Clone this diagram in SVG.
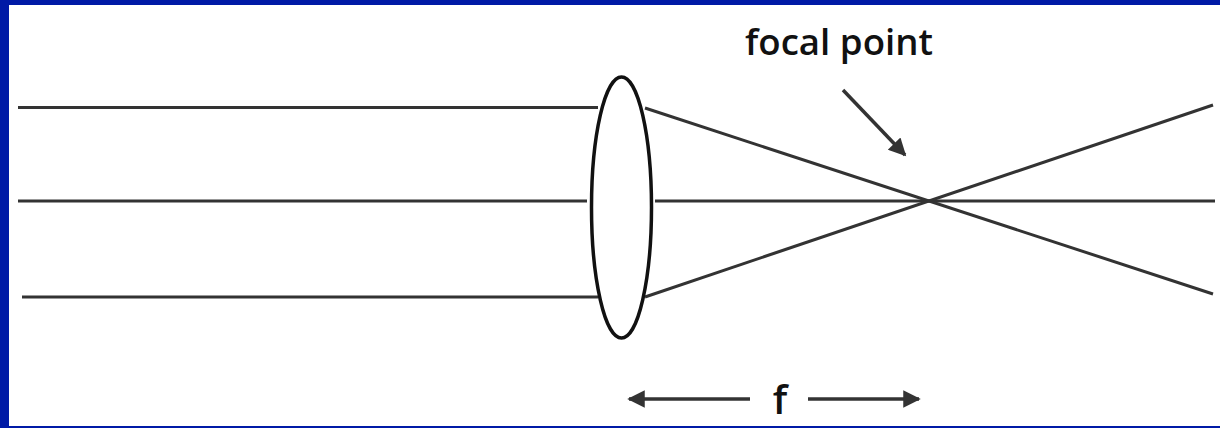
<svg xmlns="http://www.w3.org/2000/svg" width="1220" height="428" viewBox="0 0 1220 428">
<style>
.ray{stroke:#333;stroke-width:3;fill:none}
.arr{stroke:#333;stroke-width:3.5;fill:none}
.lbl{font-family:"Open Sans","Noto Sans",sans-serif;font-weight:600;fill:#111}
</style>
<defs>
<marker id="ah" viewBox="0 0 10 10" refX="9" refY="5" markerWidth="6" markerHeight="5" markerUnits="strokeWidth" orient="auto-start-reverse">
<path d="M0,0 L10,5 L0,10 z" fill="#333"/>
</marker>
</defs>
<rect x="0" y="0" width="1220" height="428" fill="#001aa6"/>
<rect x="9" y="5" width="1211" height="421" fill="#fff"/>
<g id="connectors">
<line class="ray" x1="18" y1="107.5" x2="598" y2="107.5"/>
<line class="ray" x1="18" y1="201" x2="587" y2="201"/>
<line class="ray" x1="655" y1="201" x2="1215" y2="201"/>
<line class="ray" x1="22" y1="297" x2="598" y2="297"/>
<line class="ray" x1="645" y1="108" x2="1213" y2="294"/>
<line class="ray" x1="645" y1="297" x2="1213" y2="105"/>
<line class="arr" x1="843" y1="90" x2="905" y2="155" marker-end="url(#ah)"/>
<line class="arr" x1="750" y1="399" x2="629" y2="399" marker-end="url(#ah)"/>
<line class="arr" x1="808" y1="399" x2="919" y2="399" marker-end="url(#ah)"/>
</g>
<g id="lens">
<ellipse cx="621.5" cy="207.5" rx="30" ry="130.5" fill="#fff" stroke="#111" stroke-width="3.5"/>
</g>
<g id="focal-label">
<text class="lbl" x="745" y="55" font-size="36" textLength="188" lengthAdjust="spacingAndGlyphs">focal point</text>
</g>
<g id="f-label">
<text class="lbl" x="780" y="414" font-size="40" text-anchor="middle">f</text>
</g>
</svg>
